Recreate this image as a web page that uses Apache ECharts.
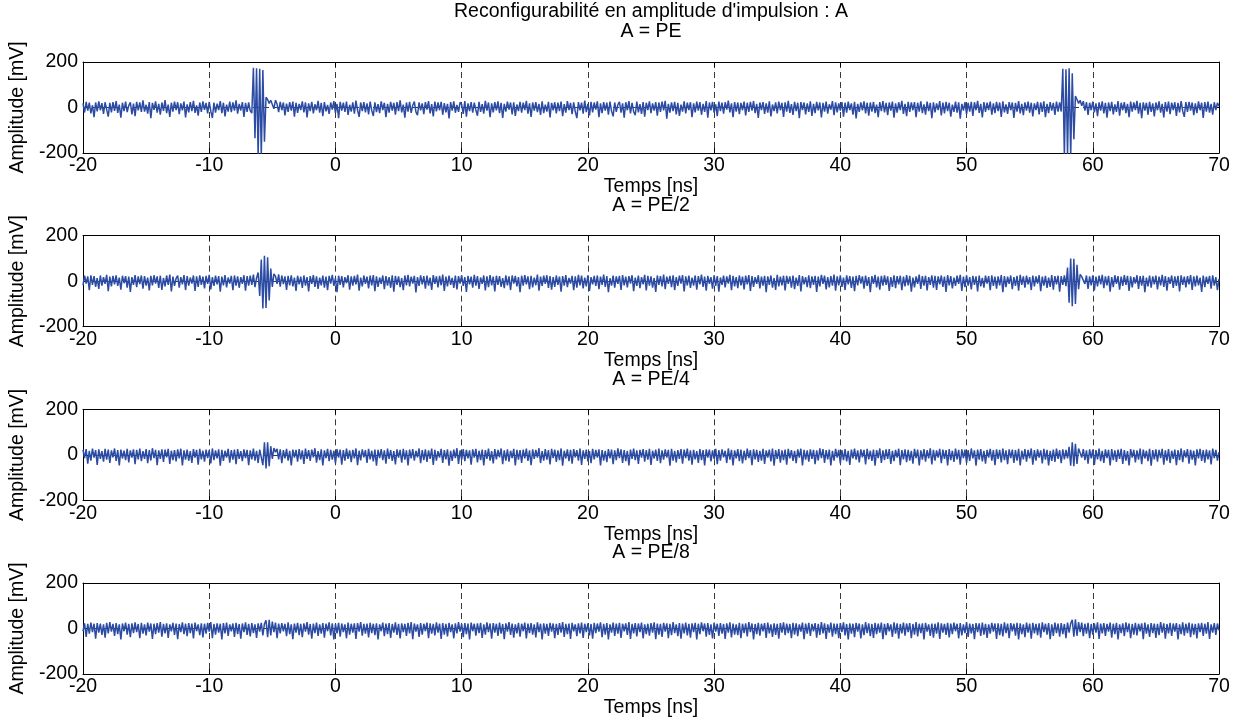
<!DOCTYPE html>
<html><head><meta charset="utf-8">
<script src="https://cdn.jsdelivr.net/npm/echarts@6/dist/echarts.min.js"></script>
<style>html,body{margin:0;padding:0;background:#fff}#c{width:1241px;height:720px}</style>
</head><body><div id="c"></div>
<script>
// ---- data (sampling grid of the scope trace) ----
const TIME_START = -20;      // ns, first sample
const TIME_STEP = 0.125;     // ns between samples
const X_MIN = -20, X_MAX = 70, X_INTERVAL = 10;
const Y_MIN = -200, Y_MAX = 200, Y_INTERVAL = 200;

const mainTitle = "Reconfigurabilité en amplitude d'impulsion : A";
const panelTitles = ['A = PE', 'A = PE/2', 'A = PE/4', 'A = PE/8'];
const xName = 'Temps [ns]';
const yName = 'Amplitude [mV]';

// amplitude in mV, one value per sample
const ampPE = [
18,-22,25,-14,21,-26,10,-42,22,-17,27,-12,19,-28,23,-9,-40,20,-21,24,
-15,28,-24,13,-45,21,-16,26,-20,8,23,-30,17,-38,25,-13,22,-19,31,-18,
12,-27,24,-47,20,-10,27,-23,16,-31,22,-15,33,-25,13,-41,21,-18,26,-11,
23,-29,18,-13,26,-44,14,-21,24,-16,29,-24,9,-36,22,-19,27,-10,20,-26,
25,-16,-46,22,-23,17,-11,28,-25,21,-39,13,-18,26,-20,23,-14,31,-27,16,
-13,24,-41,20,-19,22,-15,-25,175,-135,172,-215,170,-212,165,-150,45,35,18,32,
28,-6,32,15,-20,25,-12,22,-35,17,-19,24,-14,26,-40,21,-24,16,-11,27,
-21,23,-44,18,-16,25,-26,14,-12,29,-23,20,-38,24,-17,11,-28,22,-9,28,
-24,16,-47,25,-14,21,-19,26,-33,12,-18,23,-27,30,-11,-41,22,-16,24,-21,
18,-30,26,-13,-37,23,-20,15,-25,27,-11,21,-43,16,-23,25,-14,20,-31,24,
-16,31,-21,13,-45,22,-18,25,-24,10,26,-19,-34,23,-13,18,-29,24,-9,28,
-26,15,-39,26,-17,22,-12,25,-32,19,-21,16,-48,24,-14,27,-23,11,-19,23,
13,-28,28,-40,18,-16,24,-23,21,-11,-36,25,-19,15,-27,29,-14,22,-42,18,
-21,24,-13,27,-25,20,-46,16,-18,26,-9,22,-30,23,-37,13,-16,25,-23,21,
-11,29,-27,18,-41,22,-14,24,-20,16,-33,27,-25,13,-18,25,-44,20,-12,23,
-26,21,-16,26,-38,15,-23,28,-11,20,-29,23,-18,-47,24,-13,21,-27,30,-20,
16,-35,25,-21,22,-9,27,-43,18,-25,24,-14,21,-31,26,-16,-39,22,-19,13,
25,-23,18,-45,23,-12,28,-26,20,-18,-34,26,-21,15,-28,24,-40,21,-11,27,
-25,18,-14,24,-36,22,-19,26,-13,29,-49,16,-23,23,-16,25,-30,20,-37,13,
-18,27,-26,21,-11,23,-42,18,-21,26,-14,24,-32,16,-19,28,-45,22,-13,25,
-23,14,-38,26,-16,21,-27,23,-9,30,-21,18,-43,24,-18,22,-29,20,-12,26,
-35,21,-19,25,-14,28,-25,16,-46,22,-11,24,-28,18,-23,27,-39,13,-16,23,
-26,26,-12,20,-41,23,-18,29,-24,15,-33,25,-16,21,-47,24,-11,22,-30,18,
-19,27,-37,16,-25,25,-13,22,-44,20,-18,26,-27,14,-9,28,-34,23,-21,18,
-14,24,-40,21,-23,26,-11,18,-31,25,-48,16,-19,23,-13,27,-26,21,-36,22,
-18,25,-25,13,-42,24,-16,28,-21,20,-34,22,-14,26,-45,18,-23,23,-11,29,
-28,16,-38,25,-19,22,-12,24,-43,21,-18,27,-25,14,-31,26,-16,20,-47,23,
-21,18,-11,28,-35,22,-26,25,-16,21,-40,13,-19,26,-23,23,-49,16,-14,24,
-29,20,-18,25,-37,23,-12,29,-24,16,-44,24,-19,21,-11,26,-32,18,-25,25,
-16,22,-41,27,-21,14,-28,24,-12,22,-46,20,-18,28,-26,16,-34,23,-14,26,
-23,21,-39,18,-11,25,-30,22,-19,27,-43,16,-25,24,-14,20,-33,26,-18,22,
-18,170,-215,168,-210,172,-215,150,-140,50,35,18,32,8,28,-14,24,-33,21,-12,
26,-21,18,-38,23,-14,27,-26,20,-45,22,-16,25,-30,14,-19,28,-36,21,-12,
24,-25,16,-42,26,-18,22,-11,29,-27,20,-47,23,-14,21,-32,25,-19,18,-39,
22,-12,27,-23,16,-44,24,-18,26,-29,21,-11,23,-37,20,-21,28,-16,-41,24,
-19,25,-14,22,-34,18,-25,27,-12,21,-46,24,-18,26,-23,16,-31,23,-11,20,
6];

const ampPE2 = [
-18,24,-11,21,-40,26,-16,22,-25,14,-34,25,-20,18,-12,28,-44,20,-23,23,
-14,26,-21,16,-37,24,-9,22,-28,20,-47,18,-16,27,-26,21,-13,25,-33,22,
-20,16,-41,23,-18,26,-11,21,-30,24,-38,14,-23,25,-16,29,-45,20,-21,12,
24,-28,18,-14,27,-39,22,-20,16,-11,25,-43,21,-25,26,-16,20,-32,23,-12,
28,-36,18,-21,24,-14,22,-46,20,-18,27,-27,16,-11,23,-40,25,-20,21,-29,
18,-12,26,-42,22,-20,24,-16,29,-26,14,38,-65,95,-120,112,-118,105,-85,55,
-25,32,22,-12,30,-24,25,-13,21,-38,23,-18,26,-23,16,-43,24,-14,20,-30,
25,-20,18,-45,22,-12,27,-25,21,-34,16,-18,24,-28,20,-39,23,-11,28,-21,
14,-48,24,-16,22,-27,18,-9,26,-37,21,-20,23,-14,29,-42,16,-23,25,-12,
20,-32,24,-18,27,-44,21,-25,16,-12,25,-35,22,-20,18,-29,26,-46,23,-16,
21,-26,14,-40,25,-18,28,-23,20,-11,23,-49,18,-21,26,-14,22,-33,24,-20,
16,-38,27,-12,21,-27,23,-18,29,-43,20,-23,24,-16,14,-30,25,-36,22,-11,
26,-21,18,-47,23,-14,20,-28,28,-20,22,-34,16,-12,25,-41,21,-26,27,-18,
20,-45,24,-16,22,-25,13,-31,26,-18,21,-39,25,-11,23,-23,18,-48,24,-20,
27,-14,21,-35,23,-27,16,-18,29,-42,20,-21,24,-12,26,-30,22,-37,18,-25,
25,-16,20,-46,22,-20,27,-26,14,-11,23,-40,21,-28,28,-18,24,-32,16,-23,
26,-43,18,-14,23,-21,25,-35,20,-16,29,-25,22,-48,13,-20,24,-29,21,-12,
23,-38,27,-18,20,-27,22,-11,26,-44,16,-21,24,-31,18,-14,28,-41,23,-20,
21,-28,14,-47,25,-16,22,-23,29,-35,20,-12,23,-26,26,-39,18,-21,24,-11,
27,-45,21,-18,24,-30,16,-20,25,-37,22,-14,29,-25,20,-42,23,-12,18,-33,
26,-21,22,-46,16,-16,24,-27,21,-11,28,-40,23,-23,18,-31,25,-18,20,-36,
24,-14,27,-43,22,-25,18,-12,26,-32,20,-20,23,-48,21,-16,25,-28,14,-38,
28,-23,20,-18,24,-41,23,-12,21,-29,25,-35,16,-21,27,-45,22,-14,18,-26,
26,-31,21,-16,23,-47,20,-23,28,-12,24,-36,18,-27,22,-20,29,-42,21,-18,
25,-25,16,-39,26,-14,22,-30,20,-44,23,-18,27,-11,21,-33,24,-21,18,-48,
22,-12,28,-27,20,-37,23,-20,25,-16,21,-43,18,-25,26,-31,22,-14,24,-40,
20,-23,27,-18,23,-46,16,-27,21,-12,29,-34,22,-20,24,-41,18,-16,26,-29,
23,-38,21,-14,25,-25,20,-47,27,-18,22,-32,16,-21,24,-12,28,-43,20,-26,
26,-20,18,-36,23,-16,21,-45,25,-23,14,-28,24,-11,22,-40,26,-21,20,-33,
21,-18,27,-48,22,-26,20,-12,25,-35,18,-21,23,-42,28,-16,21,-28,24,-14,
18,-39,25,-23,21,-11,26,-44,20,-20,23,-30,16,-25,27,-37,22,-14,24,-46,
22,-16,26,-22,60,-95,100,-110,98,-100,72,-35,30,20,28,-12,25,-34,21,-18,
25,-41,20,-23,24,-14,28,-31,21,-18,23,-46,18,-26,26,-12,22,-37,20,-21,
27,-16,23,-43,21,-27,18,-11,26,-34,22,-20,24,-48,16,-23,25,-28,21,-14,
24,-36,20,-18,28,-25,22,-42,18,-12,25,-30,21,-21,23,-45,26,-16,20,-27,
22,-14,27,-38,21,-23,24,-18,16,-47,25,-26,20,-12,23,-33,26,-20,18,-40,
10];

const ampPE4 = [
22,-14,25,-39,18,-25,27,-12,21,-44,24,-18,16,-30,26,-21,23,-35,20,-11,
28,-27,21,-47,23,-16,18,-23,26,-33,20,-12,24,-41,22,-20,27,-28,16,-18,
25,-37,21,-25,29,-14,22,-45,20,-18,24,-31,23,-11,26,-40,18,-23,21,-29,
24,-16,27,-46,20,-21,23,-26,16,-35,25,-12,22,-43,26,-20,18,-30,23,-14,
21,-38,28,-23,20,-16,24,-48,22,-27,18,-12,26,-34,21,-21,23,-41,25,-18,
16,-28,24,-14,22,-45,20,-20,27,-25,18,-36,23,30,-45,55,-60,55,-50,38,
-18,30,12,26,-20,24,-37,21,-16,26,-26,18,-46,23,-12,22,-30,25,-20,20,
-40,27,-18,21,-27,23,-11,29,-34,16,-23,24,-47,20,-14,26,-28,22,-21,18,
-38,25,-12,23,-43,21,-25,27,-18,20,-32,22,-16,28,-45,18,-24,24,-11,21,
-36,26,-20,18,-29,23,-48,22,-14,25,-23,20,-39,27,-18,21,-27,16,-42,24,
-12,22,-34,26,-21,20,-46,23,-16,25,-26,18,-11,28,-37,21,-23,24,-31,20,
-18,27,-44,22,-25,16,-12,26,-35,21,-20,24,-48,18,-27,23,-14,29,-40,20,
-21,25,-28,22,-16,20,-43,24,-12,26,-33,18,-23,23,-46,21,-18,27,-25,16,
-38,25,-20,22,-11,28,-41,20,-25,24,-30,18,-14,26,-47,22,-21,21,-35,23,
-16,27,-27,20,-45,24,-18,22,-12,29,-36,16,-25,25,-21,21,-42,26,-14,23,
-31,20,-23,28,-48,18,-16,24,-28,22,-39,25,-11,21,-25,27,-44,20,-18,23,
-29,16,-37,26,-20,22,-12,24,-46,21,-26,18,-32,25,-16,23,-41,20,-23,28,
-14,24,-35,21,-28,18,-47,23,-18,27,-23,20,-40,22,-12,25,-30,21,-21,26,
-44,18,-16,23,-27,28,-37,20,-21,24,-12,22,-48,26,-25,18,-33,21,-18,25,
-39,23,-14,27,-26,20,-43,22,-20,16,-35,25,-23,21,-46,24,-12,23,-29,20,
-18,26,-41,21,-25,24,-11,18,-36,28,-21,22,-47,20,-16,25,-28,23,-38,18,
-23,27,-14,21,-45,24,-20,22,-31,18,-26,26,-40,20,-12,23,-29,28,-48,21,
-18,25,-34,20,-23,23,-43,26,-16,21,-27,18,-37,24,-12,27,-46,22,-21,20,
-30,24,-18,22,-41,20,-25,28,-14,25,-35,21,-20,23,-47,18,-26,26,-12,22,
-38,21,-23,25,-29,18,-44,23,-16,27,-21,20,-33,24,-11,22,-42,26,-20,18,
-27,23,-48,21,-14,28,-36,20,-23,24,-18,25,-40,18,-28,22,-12,27,-45,21,
-20,24,-32,22,-25,18,-39,26,-14,23,-47,20,-21,25,-30,21,-16,29,-42,22,
-25,20,-12,26,-37,23,-18,21,-46,25,-23,18,-31,27,-20,22,-43,24,-14,23,
-35,21,-27,28,-16,20,-48,23,-21,25,-29,18,-39,22,-12,26,-25,21,-45,24,
-18,22,-33,27,-23,20,-41,24,-14,23,-36,21,-26,26,-47,18,-20,25,-30,22,
-16,28,-43,21,-25,24,-12,20,-38,26,-21,22,-46,18,-27,23,-31,27,-18,21,
-37,24,-20,22,-16,35,-48,55,-50,48,-40,28,26,-12,25,-23,20,-39,24,-16,
23,-44,21,-20,27,-28,18,-35,24,-14,22,-47,25,-23,20,-31,23,-18,26,-40,
21,-25,16,-46,25,-12,22,-33,20,-21,27,-41,23,-16,18,-28,26,-48,21,-20,
24,-30,22,-14,26,-43,20,-25,25,-36,18,-18,23,-45,21,-23,28,-32,20,-12,
25,-39,22,-21,18,-47,24,-16,26,-27,21,-34,23,-20,20,-42,27,-14,22,-25,
12];

const ampPE8 = [
-12,23,-37,20,-23,26,-16,21,-45,24,-18,22,-28,18,-40,25,-21,28,-14,20,
-32,24,-25,18,-48,22,-12,26,-27,21,-38,23,-20,27,-16,20,-43,25,-23,18,
-30,26,-14,22,-46,21,-25,24,-18,28,-36,20,-21,23,-41,18,-12,25,-28,22,
-47,20,-16,27,-25,21,-34,24,-20,22,-44,26,-12,18,-29,23,-39,21,-23,25,
-14,28,-42,20,-27,23,-18,21,-48,24,-21,26,-32,18,-12,22,-37,25,-25,20,
-45,22,-16,27,-28,21,-35,24,-20,18,-41,23,-14,25,-30,21,36,-38,38,-30,
30,-16,26,-43,22,-21,24,-12,20,-34,27,-25,18,-47,22,-18,25,-29,21,-38,
23,-14,28,-27,20,-45,22,-20,26,-32,18,-23,24,-40,21,-12,27,-30,23,-48,
20,-21,25,-36,22,-16,18,-43,26,-27,21,-18,23,-46,24,-14,28,-31,20,-23,
22,-39,25,-20,21,-29,23,-48,18,-12,26,-34,22,-25,24,-41,20,-18,27,-28,
21,-44,23,-16,20,-32,25,-21,28,-47,22,-14,18,-37,24,-27,21,-12,26,-42,
23,-23,20,-30,27,-18,22,-46,24,-27,21,-35,25,-16,18,-43,23,-21,28,-14,
20,-38,24,-25,22,-48,26,-12,21,-31,23,-20,25,-41,18,-27,27,-16,22,-45,
24,-18,21,-33,26,-23,20,-47,23,-14,28,-28,22,-40,18,-21,25,-36,21,-12,
26,-44,22,-20,24,-27,18,-39,27,-16,21,-48,23,-23,20,-32,25,-14,22,-43,
21,-28,24,-18,28,-37,20,-25,22,-46,25,-12,18,-34,23,-21,26,-41,21,-16,
23,-30,20,-45,25,-20,22,-14,27,-38,21,-27,24,-48,18,-18,26,-33,22,-23,
25,-41,21,-12,23,-28,28,-46,20,-21,24,-35,22,-16,26,-43,18,-25,21,-31,
24,-18,27,-47,22,-27,20,-37,25,-14,23,-42,21,-29,28,-20,18,-34,24,-45,
22,-21,26,-30,20,-40,23,-16,25,-48,21,-25,27,-12,22,-36,24,-28,18,-44,
26,-14,21,-33,24,-23,20,-46,23,-18,27,-39,22,-27,18,-29,25,-43,21,-20,
23,-35,28,-16,22,-48,20,-25,25,-31,21,-12,24,-41,26,-21,18,-37,23,-28,
21,-45,24,-18,27,-29,22,-20,20,-42,25,-27,23,-34,18,-14,26,-47,22,-23,
25,-32,20,-12,24,-40,21,-28,28,-21,23,-46,18,-18,26,-36,22,-25,21,-43,
24,-16,27,-30,20,-48,23,-23,21,-38,25,-14,22,-44,18,-29,28,-20,23,-34,
20,-41,25,-25,22,-18,26,-47,21,-29,24,-12,18,-37,27,-23,23,-45,20,-21,
26,-31,22,-16,24,-43,20,-27,28,-35,21,-20,23,-48,25,-14,18,-33,22,-40,
21,-23,27,-46,23,-18,20,-28,25,-39,22,-25,26,-12,21,-44,24,-30,18,-20,
28,-37,22,-21,20,-47,24,-16,23,-33,26,-27,21,-41,18,-23,25,-14,22,-46,
23,-29,20,-35,27,-20,22,-43,24,-12,21,-31,25,-48,23,-25,18,-38,26,-18,
22,-45,25,-21,20,-29,23,-40,27,-16,21,-27,24,-47,18,-32,26,-20,22,-36,
24,-25,20,-42,26,-18,22,38,-36,40,-32,28,-16,26,-34,21,-23,25,-43,20,
-27,23,-18,27,-46,22,-21,24,-32,20,-14,26,-40,21,-25,25,-48,18,-20,23,
-34,27,-16,22,-43,20,-27,25,-30,21,-12,23,-47,26,-23,18,-37,24,-20,22,
-41,21,-29,28,-18,23,-45,20,-21,25,-33,22,-14,24,-48,18,-25,27,-31,21,
-20,26,-38,22,-27,20,-44,23,-16,25,-32,21,-23,28,-46,18,-18,24,-28,22,
-8];

const panelValues = [ampPE, ampPE2, ampPE4, ampPE8];

// ---- layout / style ----
const FONT = "'Liberation Sans', Arial, Helvetica, sans-serif";
const FS = 19.5;
const PANEL_TOP0 = 62, PANEL_STEP = 173.67, PANEL_H = 91, LEFT = 83, RIGHT = 22;
const CENTER_X = 651;
const LINE_COLOR = '#2c4ca4';
const txt = {fontSize: FS, color: '#000', fontFamily: FONT, fontWeight: 'normal'};
const dashed = {color: '#3a3a3a', width: 1, type: [6, 4]};
const black = {color: '#000', width: 1};

const grids = [], xAxes = [], yAxes = [], series = [];
const titles = [{text: mainTitle, left: CENTER_X, top: 2, textAlign: 'center', padding: 0, textStyle: txt}];

panelValues.forEach((vals, i) => {
  const top = PANEL_TOP0 + PANEL_STEP * i;
  grids.push({left: LEFT, right: RIGHT, top: top, height: PANEL_H, containLabel: false});
  titles.push({text: panelTitles[i], left: CENTER_X, top: top - 40, textAlign: 'center', padding: 0, textStyle: txt});
  xAxes.push({
    gridIndex: i, type: 'value', min: X_MIN, max: X_MAX, interval: X_INTERVAL, position: 'bottom',
    axisLine: {onZero: false, lineStyle: black},
    axisTick: {inside: true, length: 5, lineStyle: black},
    axisLabel: Object.assign({margin: 3}, txt),
    splitLine: {show: true, lineStyle: dashed},
    name: xName, nameLocation: 'middle', nameGap: 16, nameTextStyle: txt
  });
  xAxes.push({
    gridIndex: i, type: 'value', min: X_MIN, max: X_MAX, interval: X_INTERVAL, position: 'top',
    axisLine: {onZero: false, lineStyle: black},
    axisTick: {inside: true, length: 5, lineStyle: black},
    axisLabel: {show: false}, splitLine: {show: false}
  });
  yAxes.push({
    gridIndex: i, type: 'value', min: Y_MIN, max: Y_MAX, interval: Y_INTERVAL, position: 'left',
    axisLine: {show: true, onZero: false, lineStyle: black},
    axisTick: {show: true, inside: true, length: 5, lineStyle: black},
    axisLabel: Object.assign({margin: 5}, txt),
    splitLine: {show: true, lineStyle: dashed},
    name: yName, nameLocation: 'middle', nameGap: 48, nameTextStyle: txt
  });
  yAxes.push({
    gridIndex: i, type: 'value', min: Y_MIN, max: Y_MAX, interval: Y_INTERVAL, position: 'right',
    axisLine: {show: true, onZero: false, lineStyle: black},
    axisTick: {show: true, inside: true, length: 5, lineStyle: black},
    axisLabel: {show: false}, splitLine: {show: false}
  });
  series.push({
    type: 'line', name: panelTitles[i], xAxisIndex: 2 * i, yAxisIndex: 2 * i,
    data: vals.map((v, k) => [TIME_START + k * TIME_STEP, v]),
    showSymbol: false, symbol: 'none', sampling: null, clip: true, silent: true,
    lineStyle: {color: LINE_COLOR, width: 1.5}, z: 2
  });
});

const chart = echarts.init(document.getElementById('c'), null, {renderer: 'canvas', width: 1241, height: 720});
chart.setOption({
  animation: false,
  backgroundColor: '#fff',
  title: titles,
  grid: grids,
  xAxis: xAxes,
  yAxis: yAxes,
  series: series
});
</script>
</body></html>
